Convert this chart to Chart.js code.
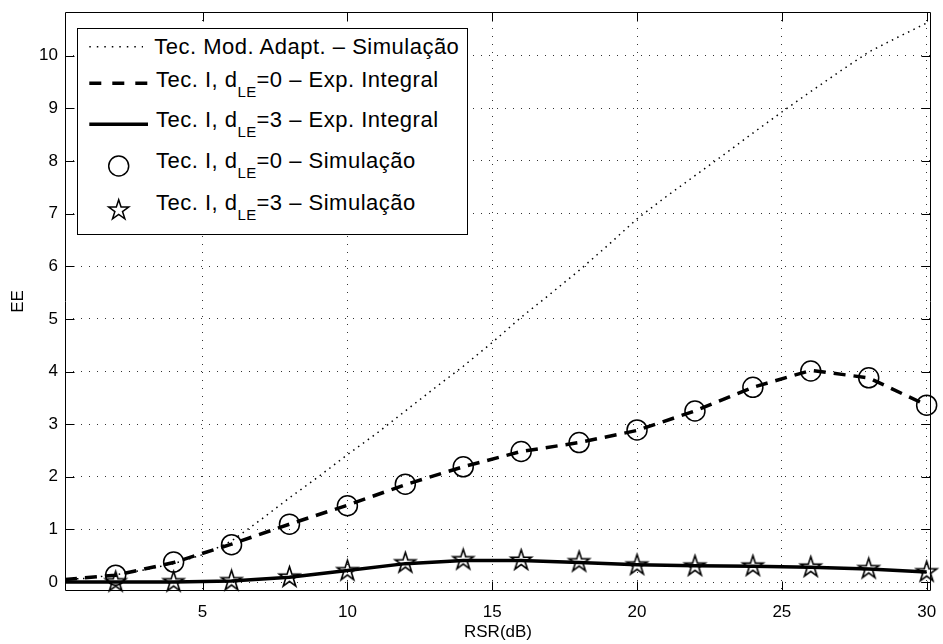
<!DOCTYPE html>
<html>
<head>
<meta charset="utf-8">
<script src="https://cdn.jsdelivr.net/npm/chart.js@4.4.1/dist/chart.umd.min.js"></script>
<style>
  html, body { margin: 0; padding: 0; background: #fff; }
  #wrap { position: relative; width: 943px; height: 644px; overflow: hidden; }
  #c { position: absolute; left: 0; top: 0; }
  #legend {
    position: absolute; left: 77px; top: 28px; width: 391px; height: 207px;
    box-sizing: border-box; border: 1px solid #000; background: #fff;
    font-family: "Liberation Sans", Arial, Helvetica, sans-serif; color: #000;
  }
  #legend svg { position: absolute; left: -1px; top: -1px; }
  .row { position: absolute; font-size: 22px; line-height: 22px; letter-spacing: 0.5px;
         white-space: nowrap; color: #000; }
  .row .sub { font-size: 15px; position: relative; top: 10px; color: #000; letter-spacing: 0.3px; }
</style>
</head>
<body>
<div id="wrap">
  <canvas id="c" width="943" height="644"></canvas>
  <div id="legend">
    <svg width="391" height="207" viewBox="0 0 391 207">
      <line x1="12.3" y1="18.7" x2="66" y2="18.7" stroke="#000" stroke-width="1.5" stroke-dasharray="1.5 6"/>
      <line x1="12.3" y1="55.3" x2="71" y2="55.3" stroke="#000" stroke-width="3.5" stroke-dasharray="12 11"/>
      <line x1="12.3" y1="96.3" x2="71" y2="96.3" stroke="#000" stroke-width="3.5"/>
      <circle cx="41.7" cy="138" r="10" fill="none" stroke="#000" stroke-width="1.5"/>
      <polygon id="legStar" fill="none" stroke="#000" stroke-width="1.5"/>
    </svg>
    <div class="row" style="left:76.3px;top:6.7px">Tec. Mod. Adapt. – Simulação</div>
    <div class="row" style="left:78px;top:40.1px">Tec. I, d<span class="sub">LE</span>=0 – Exp. Integral</div>
    <div class="row" style="left:78px;top:80.1px">Tec. I, d<span class="sub">LE</span>=3 – Exp. Integral</div>
    <div class="row" style="left:78px;top:121.1px">Tec. I, d<span class="sub">LE</span>=0 – Simulação</div>
    <div class="row" style="left:78px;top:163.4px">Tec. I, d<span class="sub">LE</span>=3 – Simulação</div>
  </div>
</div>
<script>
// RSR axis (dB) sample positions
const rsrAdapt = [0.25, 1, 2, 3, 4, 5, 6, 7, 8, 9, 10, 11, 12, 13, 14, 15, 16, 17, 18, 19, 20,
                  21, 22, 23, 24, 25, 26, 27, 28, 29, 30];
const rsrCurve = [0.25, 2, 4, 6, 8, 10, 12, 14, 16, 18, 20, 22, 24, 26, 28, 30];
const rsrSim   = [2, 4, 6, 8, 10, 12, 14, 16, 18, 20, 22, 24, 26, 28, 30];

// Tec. Mod. Adapt. – Simulação
const eeAdapt = [0.05, 0.07, 0.14, 0.23, 0.35, 0.52, 0.78, 1.18, 1.60, 2.00, 2.42, 2.82, 3.25, 3.68,
                 4.10, 4.55, 5.03, 5.47, 5.92, 6.40, 6.90, 7.32, 7.72, 8.12, 8.53, 8.93, 9.32, 9.70,
                 10.07, 10.35, 10.62];
// Tec. I, dLE=0 – Exp. Integral
const eeIntD0 = [0.05, 0.13, 0.37, 0.72, 1.10, 1.46, 1.85, 2.19, 2.48, 2.65, 2.88, 3.25, 3.70, 4.02, 3.88, 3.36];
// Tec. I, dLE=3 – Exp. Integral
const eeIntD3 = [0.00, 0.00, 0.00, 0.02, 0.09, 0.22, 0.35, 0.41, 0.41, 0.37, 0.33, 0.31, 0.30, 0.28, 0.25, 0.19];
// Tec. I, dLE=0 – Simulação
const eeSimD0 = [0.13, 0.38, 0.71, 1.10, 1.45, 1.86, 2.19, 2.48, 2.65, 2.89, 3.25, 3.70, 4.01, 3.88, 3.36];
// Tec. I, dLE=3 – Simulação
const eeSimD3 = [0.00, 0.00, 0.02, 0.09, 0.21, 0.36, 0.42, 0.41, 0.38, 0.32, 0.30, 0.30, 0.28, 0.25, 0.19];

const xTicks = [5, 10, 15, 20, 25, 30];
const yTicks = [0, 1, 2, 3, 4, 5, 6, 7, 8, 9, 10];

const FONT = '"Liberation Sans", Arial, Helvetica, sans-serif';

function pts(xs, ys) { return xs.map((x, i) => ({ x: x, y: ys[i] })); }

function starPoints(cx, cy, R, r) {
  const p = [];
  for (let k = 0; k < 10; k++) {
    const a = -Math.PI / 2 + k * Math.PI / 5;
    const rad = (k % 2 === 0) ? R : r;
    p.push([cx + rad * Math.cos(a), cy + rad * Math.sin(a)]);
  }
  return p;
}

// pentagram marker
function makeStar(R, lw) {
  const s = Math.ceil(2 * R + 2 * lw + 2);
  const cv = document.createElement('canvas');
  cv.width = s; cv.height = s;
  const g = cv.getContext('2d');
  g.lineWidth = lw; g.strokeStyle = '#000'; g.lineJoin = 'miter';
  g.beginPath();
  starPoints(s / 2, s / 2, R, R * 0.382).forEach((q, i) => i ? g.lineTo(q[0], q[1]) : g.moveTo(q[0], q[1]));
  g.closePath(); g.stroke();
  return cv;
}

document.getElementById('legStar').setAttribute('points',
  starPoints(41.7, 182.3, 10.5, 10.5 * 0.382).map(q => q[0].toFixed(2) + ',' + q[1].toFixed(2)).join(' '));

// box with inward tick marks
const framePlugin = {
  id: 'frame',
  afterDatasetsDraw(chart) {
    const { ctx, chartArea: a, scales: { x, y } } = chart;
    const L = Math.round(a.left) + 0.5, R = Math.round(a.right) - 0.5;
    const T = Math.round(a.top) + 0.5, B = Math.round(a.bottom) - 0.5;
    const tl = 9;
    ctx.save();
    ctx.strokeStyle = '#000'; ctx.lineWidth = 1; ctx.setLineDash([]);
    ctx.beginPath();
    ctx.rect(L, T, R - L, B - T);
    xTicks.forEach(v => {
      const px = Math.round(x.getPixelForValue(v)) + 0.5;
      ctx.moveTo(px, B); ctx.lineTo(px, B - tl);
      ctx.moveTo(px, T); ctx.lineTo(px, T + tl);
    });
    yTicks.forEach(v => {
      const py = Math.round(y.getPixelForValue(v)) + 0.5;
      ctx.moveTo(L, py); ctx.lineTo(L + tl, py);
      ctx.moveTo(R, py); ctx.lineTo(R - tl, py);
    });
    ctx.stroke();
    ctx.restore();
  }
};

function noPad(s) { s.paddingTop = 0; s.paddingBottom = 0; s.paddingLeft = 0; s.paddingRight = 0; }

new Chart(document.getElementById('c'), {
  type: 'line',
  data: {
    datasets: [
      { label: 'Tec. Mod. Adapt. – Simulação', data: pts(rsrAdapt, eeAdapt),
        borderColor: '#000', borderWidth: 1.5, borderDash: [1.5, 4.5], pointRadius: 0, tension: 0, fill: false },
      { label: 'Tec. I, dLE=0 – Exp. Integral', data: pts(rsrCurve, eeIntD0),
        borderColor: '#000', borderWidth: 3.5, borderDash: [12, 8], pointRadius: 0, tension: 0, fill: false },
      { label: 'Tec. I, dLE=3 – Exp. Integral', data: pts(rsrCurve, eeIntD3),
        borderColor: '#000', borderWidth: 3.5, pointRadius: 0, tension: 0, fill: false },
      { label: 'Tec. I, dLE=0 – Simulação', data: pts(rsrSim, eeSimD0), showLine: false, clip: false,
        pointStyle: 'circle', pointRadius: 10, pointBorderWidth: 1.5, pointBorderColor: '#000',
        pointBackgroundColor: 'rgba(0,0,0,0)' },
      { label: 'Tec. I, dLE=3 – Simulação', data: pts(rsrSim, eeSimD3), showLine: false, clip: false,
        pointStyle: makeStar(10.7, 1.6), pointRadius: 11 }
    ]
  },
  options: {
    responsive: false,
    animation: false,
    devicePixelRatio: 1,
    layout: { padding: { top: 9, right: 7, left: 0, bottom: 0 } },
    plugins: { legend: { display: false }, tooltip: { enabled: false } },
    scales: {
      x: {
        type: 'linear', min: 0.25, max: 30.15,
        afterBuildTicks: s => { s.ticks = xTicks.map(v => ({ value: v })); },
        afterFit: s => { s.height = 53; noPad(s); },
        grid: { color: '#333', lineWidth: 1, drawTicks: false },
        border: { display: false, dash: [1, 7] },
        ticks: { color: '#000', padding: 11, font: { family: FONT, size: 17 }, maxRotation: 0,
                 callback: v => String(v) },
        title: { display: true, text: 'RSR(dB)', color: '#000', font: { family: FONT, size: 17 },
                 padding: { top: 0, bottom: 1 } }
      },
      y: {
        type: 'linear', min: -0.17, max: 10.83,
        afterBuildTicks: s => { s.ticks = yTicks.map(v => ({ value: v })); },
        afterFit: s => { s.width = 65; noPad(s); },
        grid: { color: '#333', lineWidth: 1, drawTicks: false },
        border: { display: false, dash: [1, 7] },
        ticks: { color: '#000', padding: 7, font: { family: FONT, size: 17 }, callback: v => String(v) },
        title: { display: true, text: 'EE', color: '#000', font: { family: FONT, size: 17 },
                 padding: { top: 8, bottom: 0 } }
      }
    }
  },
  plugins: [framePlugin]
});
</script>
</body>
</html>
